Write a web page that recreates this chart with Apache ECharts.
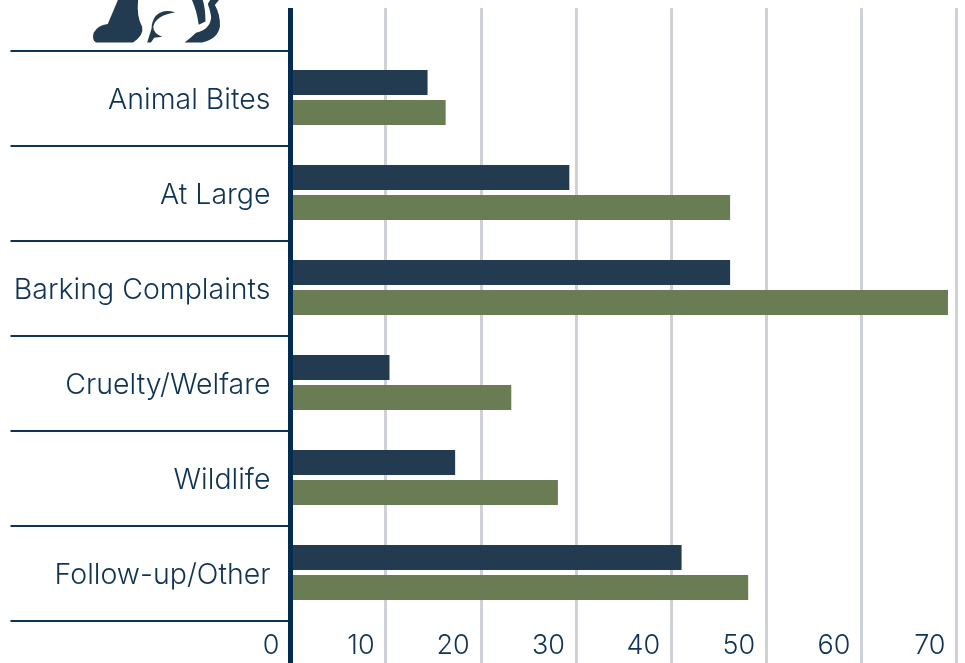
<!DOCTYPE html>
<html><head><meta charset="utf-8">
<style>html,body{margin:0;padding:0;background:#fff}#c{width:965px;height:663px}</style>
<script src="https://cdn.jsdelivr.net/npm/echarts@6/dist/echarts.min.js"></script>
</head><body><div id="c"></div>
<script>
const categories=["Animal Bites","At Large","Barking Complaints","Cruelty/Welfare","Wildlife","Follow-up/Other"];
const seriesA=[14.3,29.2,46.1,10.3,17.2,41];
const seriesB=[16.2,46.1,69,23.1,28,48];
const font="Inter";
const navy="#0f3354";
const catPath="M100 0 L70 72 Q40 76 28 98 Q22 120 35 127 L145 127 Q178 105 172 80 Q155 50 160 0 Z "+
 "M320 0 Q335 35 340 74 L360 64 Q360 25 352 0 Z "+
 "M400 0 L388 15 Q405 45 403 80 Q395 118 350 127 L298 127 Q318 112 332 98 Q375 88 377 50 Q374 30 367 12 L374 0 Z "+
 "M270 37 Q235 25 212 48 Q200 65 200 85 L187 127 L198 127 L208 113 L232 110 Q205 100 205 80 Q212 45 270 37 Z";
const chart=echarts.init(document.getElementById('c'),null,{renderer:'canvas'});
chart.setOption({
 animation:false,
 backgroundColor:'#fff',
 grid:[
  {left:290.5,right:8.5,top:8,bottom:0},
  {left:290.5,right:8.5,top:51,bottom:42},
  {left:291.5,right:7.5,top:50,bottom:43},
  {left:290.5,right:8.5,top:53,bottom:40}
 ],
 xAxis:[
  {gridIndex:0,type:'value',min:0,max:70,interval:10,position:'bottom',
   axisLine:{show:false},axisTick:{show:false},
   splitLine:{show:true,lineStyle:{color:'#cdd2d8',width:3}},
   axisLabel:{inside:true,margin:4,align:'right',padding:[0,11,0,0],color:navy,fontFamily:font,fontSize:27,fontWeight:300}},
  {gridIndex:1,type:'value',min:0,max:70,interval:10,show:false},
  {gridIndex:2,type:'value',min:0,max:70,interval:10,show:false},
  {gridIndex:3,type:'value',min:0,max:70,interval:10,show:false}
 ],
 yAxis:[
  {gridIndex:0,type:'value',min:0,max:1,axisLabel:{show:false},axisTick:{show:false},splitLine:{show:false},
   axisLine:{show:true,onZero:false,lineStyle:{color:'#042c50',width:5,cap:'butt'}},z:10},
  {gridIndex:1,type:'category',inverse:true,data:categories,
   axisLine:{show:false},
   axisTick:{show:true,length:280,lineStyle:{color:navy,width:2}},
   axisLabel:{show:false},
   splitLine:{show:false}},
  {gridIndex:2,type:'category',inverse:true,data:categories,show:false},
  {gridIndex:3,type:'category',inverse:true,data:categories,
   axisLine:{show:false},axisTick:{show:false},splitLine:{show:false},
   axisLabel:{margin:20,color:navy,fontFamily:font,fontSize:28.5,fontWeight:300}}
 ],
 series:[
  {type:'bar',name:'A',xAxisIndex:2,yAxisIndex:2,data:seriesA,barWidth:25,barGap:'20%',itemStyle:{color:'#223b50'}},
  {type:'bar',name:'B',xAxisIndex:2,yAxisIndex:2,data:seriesB,barWidth:25,barGap:'20%',itemStyle:{color:'#697c54'}},
  {type:'custom',coordinateSystem:'none',data:[0],silent:true,
   renderItem:function(){return {type:'path',shape:{pathData:catPath,layout:'cover',x:93,y:0,width:127,height:42.5},style:{fill:'#223b50'}};}}
 ]
});
</script></body></html>
